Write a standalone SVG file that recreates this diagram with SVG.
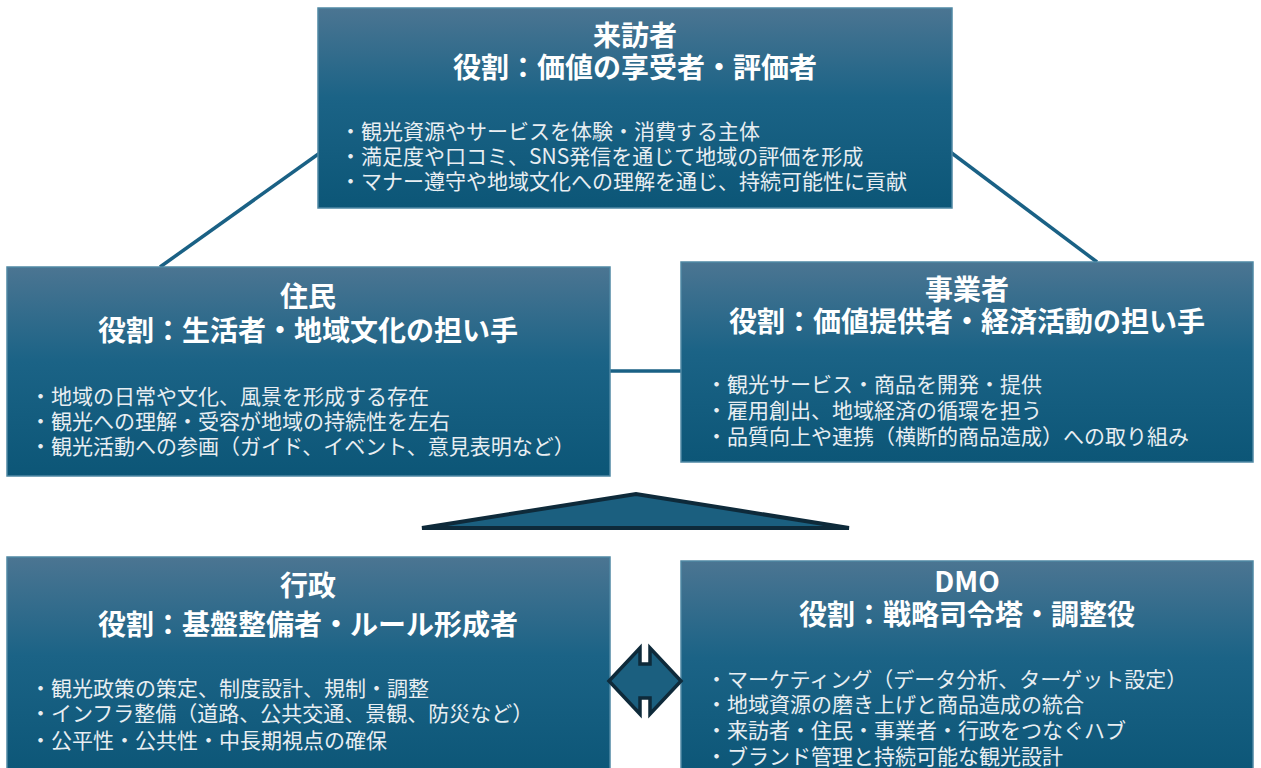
<svg xmlns="http://www.w3.org/2000/svg" width="1261" height="768" viewBox="0 0 1261 768">
<defs>
<linearGradient id="bg" x1="0" y1="0" x2="0" y2="1">
<stop offset="0" stop-color="#4b7592"/>
<stop offset="0.45" stop-color="#1b6386"/>
<stop offset="1" stop-color="#0c5677"/>
</linearGradient>
<style>
.box{fill:url(#bg);stroke:#4f88a4;stroke-width:1.5}
.t{font-family:"Noto Sans CJK JP","Noto Sans",sans-serif;font-weight:700;font-size:28px;fill:#ffffff;text-anchor:middle}
.b{font-family:"Noto Sans CJK JP","Noto Sans",sans-serif;font-size:21px;fill:#e8eef2}
.con{stroke:#1a6185;stroke-width:3.5;fill:none}
.shape{fill:#1b5f7f;stroke:#0e2a3a;stroke-width:4;stroke-linejoin:miter}
</style>
</defs>
<rect width="1261" height="768" fill="#ffffff"/>
<g id="connectors">
<line class="con" x1="160" y1="267" x2="345" y2="135"/>
<line class="con" x1="925" y1="133" x2="1097" y2="262"/>
<line class="con" x1="605" y1="371" x2="686" y2="371"/>
</g>
<g id="visitor">
<rect class="box" x="318" y="8" width="634" height="200"/>
<text class="t" x="635" y="46">来訪者</text>
<text class="t" x="635" y="78">役割：価値の享受者・評価者</text>
<text class="b" x="340" y="139">・観光資源やサービスを体験・消費する主体</text>
<text class="b" x="340" y="164">・満足度や口コミ、SNS発信を通じて地域の評価を形成</text>
<text class="b" x="340" y="189">・マナー遵守や地域文化への理解を通じ、持続可能性に貢献</text>
</g>
<g id="resident">
<rect class="box" x="7" y="267" width="603" height="209"/>
<text class="t" x="308" y="307">住民</text>
<text class="t" x="308" y="341">役割：生活者・地域文化の担い手</text>
<text class="b" x="30" y="404">・地域の日常や文化、風景を形成する存在</text>
<text class="b" x="30" y="429">・観光への理解・受容が地域の持続性を左右</text>
<text class="b" x="30" y="454">・観光活動への参画（ガイド、イベント、意見表明など）</text>
</g>
<g id="business">
<rect class="box" x="681" y="262" width="572" height="200"/>
<text class="t" x="967" y="300">事業者</text>
<text class="t" x="967" y="332">役割：価値提供者・経済活動の担い手</text>
<text class="b" x="706" y="392">・観光サービス・商品を開発・提供</text>
<text class="b" x="706" y="418">・雇用創出、地域経済の循環を担う</text>
<text class="b" x="706" y="444">・品質向上や連携（横断的商品造成）への取り組み</text>
</g>
<g id="pyramid">
<polygon class="shape" points="422,528 636,494 849,528"/>
</g>
<g id="government">
<rect class="box" x="7" y="557" width="603" height="220"/>
<text class="t" x="308" y="596">行政</text>
<text class="t" x="308" y="635">役割：基盤整備者・ルール形成者</text>
<text class="b" x="30" y="696">・観光政策の策定、制度設計、規制・調整</text>
<text class="b" x="30" y="721">・インフラ整備（道路、公共交通、景観、防災など）</text>
<text class="b" x="30" y="748">・公平性・公共性・中長期視点の確保</text>
</g>
<g id="dmo">
<rect class="box" x="681" y="561" width="572" height="216"/>
<text class="t" x="967" y="592">DMO</text>
<text class="t" x="967" y="625">役割：戦略司令塔・調整役</text>
<text class="b" x="706" y="687">・マーケティング（データ分析、ターゲット設定）</text>
<text class="b" x="706" y="712">・地域資源の磨き上げと商品造成の統合</text>
<text class="b" x="706" y="738">・来訪者・住民・事業者・行政をつなぐハブ</text>
<text class="b" x="706" y="764">・ブランド管理と持続可能な観光設計</text>
</g>
<g id="double-arrow">
<polygon class="shape" style="stroke-width:3.5" points="609,681 640,648 640,664 650,664 650,648 681,681 650,714 650,698 640,698 640,714"/>
</g>
</svg>
